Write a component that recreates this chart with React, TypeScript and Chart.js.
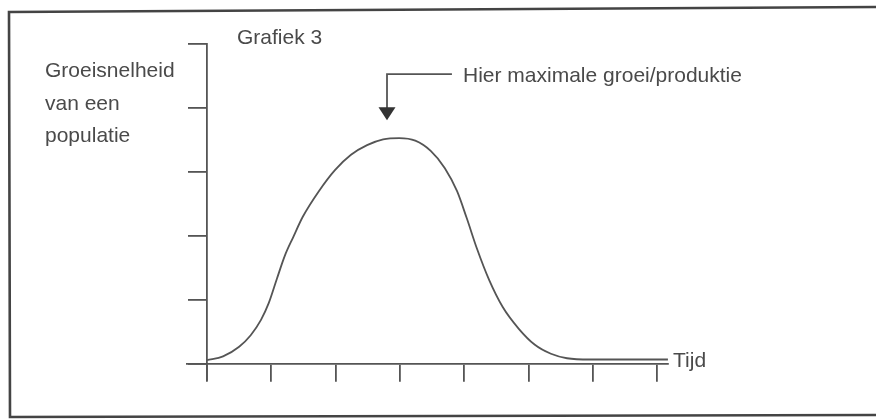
import { useEffect, useRef } from "react";
import { Chart, registerables } from "chart.js";

Chart.register(...registerables);

// ---- data (x = time units, y = growth rate units) ----
const timeValues = [0, 0.25, 0.5, 0.68, 0.84, 0.96, 1.09, 1.21, 1.34, 1.49, 1.74, 1.99, 2.24, 2.49, 2.74, 2.99, 3.24, 3.48, 3.7, 3.89, 4.04, 4.2, 4.39, 4.6, 4.85, 5.1, 5.35, 5.6, 5.96, 7.17];
const growthValues = [0.06, 0.12, 0.27, 0.45, 0.69, 0.95, 1.34, 1.69, 1.98, 2.3, 2.7, 3.03, 3.27, 3.42, 3.51, 3.53, 3.49, 3.33, 3.06, 2.7, 2.28, 1.8, 1.31, 0.89, 0.55, 0.3, 0.16, 0.09, 0.07, 0.07];
const xTickValues = [0, 1, 2, 3, 4, 5, 6, 7];
const yTickValues = [0, 1, 2, 3, 4, 5];

// annotation arrow (in data units)
const arrowX = 2.8;
const arrowTipY = 3.81;
const arrowTopY = 4.53;
const arrowEndX = 3.81;

const titleText = "Grafiek 3";
const yLabelLines = ["Groeisnelheid", "van een", "populatie"];
const annotationText = "Hier maximale groei/produktie";
const xLabelText = "Tijd";

const W = 876;
const H = 419;
const LINE = "#555";
const TEXT = "#4a4a4a";
const FONT = '21px "Liberation Sans", Arial, sans-serif';

export default function App() {
  const ref = useRef<HTMLCanvasElement>(null);

  useEffect(() => {
    const canvas = ref.current;
    if (!canvas) return;

    const decor = {
      id: "decor",
      beforeDraw(chart: any) {
        const ctx = chart.ctx;
        ctx.save();
        ctx.fillStyle = "#fff";
        ctx.fillRect(0, 0, W, H);
        ctx.strokeStyle = "#444";
        ctx.lineWidth = 2.6;
        ctx.beginPath();
        ctx.moveTo(W, 7);
        ctx.lineTo(9, 12);
        ctx.lineTo(10, 417);
        ctx.lineTo(W, 415);
        ctx.stroke();
        ctx.restore();
      },
      afterDraw(chart: any) {
        const ctx = chart.ctx;
        const xs = chart.scales.x;
        const ys = chart.scales.y;
        ctx.save();
        ctx.fillStyle = TEXT;
        ctx.font = FONT;
        ctx.textBaseline = "alphabetic";
        ctx.textAlign = "left";
        ctx.fillText(titleText, 237, 44);
        yLabelLines.forEach((t, i) => ctx.fillText(t, 45, 77 + i * 32.5));
        ctx.fillText(annotationText, 463, 82);
        ctx.fillText(xLabelText, 673, 367);

        // arrow
        const ax = xs.getPixelForValue(arrowX);
        const ex = xs.getPixelForValue(arrowEndX);
        const ty = ys.getPixelForValue(arrowTopY);
        const tip = ys.getPixelForValue(arrowTipY);
        ctx.strokeStyle = LINE;
        ctx.lineWidth = 1.8;
        ctx.beginPath();
        ctx.moveTo(ex, ty);
        ctx.lineTo(ax, ty);
        ctx.lineTo(ax, tip - 12);
        ctx.stroke();
        ctx.fillStyle = "#333";
        ctx.beginPath();
        ctx.moveTo(ax - 8.5, tip - 13);
        ctx.lineTo(ax + 8.5, tip - 13);
        ctx.lineTo(ax, tip);
        ctx.closePath();
        ctx.fill();
        ctx.restore();
      },
    };

    const chart = new Chart(canvas, {
      type: "line",
      data: {
        datasets: [
          {
            data: timeValues.map((x, i) => ({ x, y: growthValues[i] })),
            borderColor: LINE,
            borderWidth: 1.8,
            pointRadius: 0,
            cubicInterpolationMode: "monotone",
            fill: false,
          },
        ],
      },
      options: {
        animation: false,
        responsive: false,
        devicePixelRatio: 1,
        layout: { padding: { left: 187, right: W - 668, top: 44, bottom: H - 380 } },
        plugins: {
          legend: { display: false },
          tooltip: { enabled: false },
          title: { display: false },
        },
        scales: {
          x: {
            type: "linear",
            min: -0.311,
            max: 7.171,
            position: { y: 0 },
            ticks: { display: false },
            afterBuildTicks: (s: any) => {
              s.ticks = xTickValues.map((v) => ({ value: v }));
            },
            grid: { drawOnChartArea: false, drawTicks: true, tickLength: 17, color: LINE, lineWidth: 1.8 },
            border: { color: LINE, width: 1.8 },
          },
          y: {
            type: "linear",
            min: -0.25,
            max: 5,
            position: { x: 0 },
            ticks: { display: false },
            afterBuildTicks: (s: any) => {
              s.ticks = yTickValues.map((v) => ({ value: v }));
            },
            grid: { drawOnChartArea: false, drawTicks: true, tickLength: 18, color: LINE, lineWidth: 1.8 },
            border: { color: LINE, width: 1.8 },
          },
        },
      } as any,
      plugins: [decor],
    });

    return () => chart.destroy();
  }, []);

  return (
    <div style={{ position: "fixed", left: 0, top: 0, width: W, height: H, background: "#fff" }}>
      <canvas ref={ref} width={W} height={H} style={{ display: "block", width: W, height: H }} />
    </div>
  );
}
